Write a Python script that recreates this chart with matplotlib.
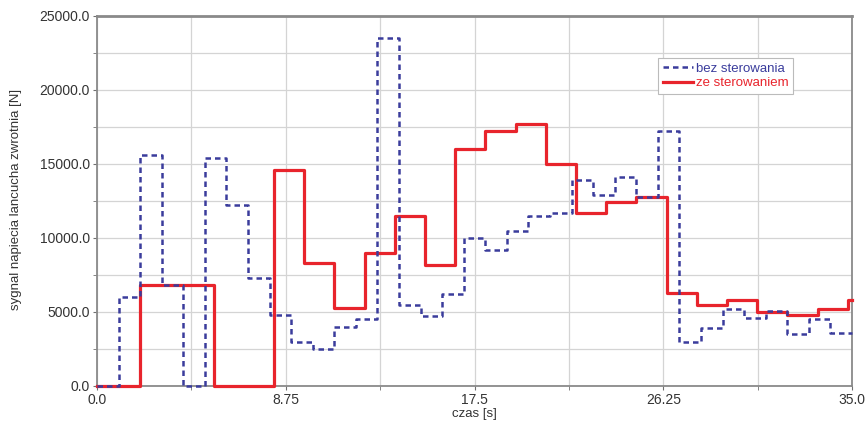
import matplotlib.pyplot as plt
from matplotlib.ticker import MultipleLocator, FormatStrFormatter

plt.rcParams['font.family'] = ['Liberation Sans', 'DejaVu Sans']

# bez sterowania (blue dashed) - step edges [s] and values [N]
t_bez = [0, 1, 2, 3, 4, 5, 6, 7, 8, 9, 10, 11, 12, 13, 14, 15, 16, 17,
         18, 19, 20, 21, 22, 23, 24, 25, 26, 27, 28, 29, 30, 31, 32, 33, 34, 35]
v_bez = [0, 6000, 15600, 6850, 0, 15400, 12200, 7300, 4800, 3000, 2500, 4000,
         4500, 23500, 5500, 4700, 6200, 10000, 9200, 10500, 11500, 11700,
         13900, 12900, 14100, 12800, 17200, 3000, 3900, 5200, 4600, 5100,
         3500, 4500, 3600, 3600]

# ze sterowaniem (red solid)
t_ze = [0, 2.0, 5.4, 8.2, 9.6, 11.0, 12.4, 13.8, 15.2, 16.6, 18.0, 19.4,
        20.8, 22.2, 23.6, 25.0, 26.4, 27.8, 29.2, 30.6, 32.0, 33.4, 34.8, 35]
v_ze = [0, 6800, 0, 14600, 8300, 5300, 9000, 11500, 8200, 16000, 17200,
        17700, 15000, 11700, 12400, 12800, 6300, 5500, 5800, 5000, 4800,
        5200, 5800, 5800]

fig = plt.figure(figsize=(8.68, 4.25), dpi=100)
ax = fig.add_axes([0.1118, 0.0918, 0.8698, 0.8706])

ax.step(t_ze, v_ze, where='post', color='#e8242c', lw=2.3,
        label='ze sterowaniem', zorder=3, clip_on=False)
ax.step(t_bez, v_bez, where='post', color='#3a3c9c', lw=1.8,
        linestyle=(0, (2.2, 1.6)), label='bez sterowania', zorder=4,
        clip_on=False)

ax.set_xlim(0, 35)
ax.set_ylim(0, 25000)
ax.xaxis.set_minor_locator(MultipleLocator(4.375))
ax.yaxis.set_major_locator(MultipleLocator(5000))
ax.yaxis.set_minor_locator(MultipleLocator(2500))
ax.set_xticks([0, 8.75, 17.5, 26.25, 35])
ax.set_xticklabels(['0.0', '8.75', '17.5', '26.25', '35.0'])
ax.yaxis.set_major_formatter(FormatStrFormatter('%.1f'))

ax.grid(which='both', color='#d4d4d4', lw=0.9, zorder=0)
ax.set_axisbelow(True)
ax.tick_params(which='both', direction='out', length=3, color='#707070',
               labelsize=10, labelcolor='#333333', pad=2)
for side in ['left', 'bottom', 'right', 'top']:
    ax.spines[side].set_color('#8a8a8a')
    ax.spines[side].set_linewidth(1.3)
ax.spines['top'].set_linewidth(2)

ax.set_xlabel('czas [s]', fontsize=9.5, color='#333333', labelpad=1)
ax.set_ylabel('sygnal napiecia lancucha zwrotnia [N]', fontsize=9.5,
              color='#333333')
ax.yaxis.set_label_coords(-0.1, 0.503)

h, l = ax.get_legend_handles_labels()
leg = ax.legend(h[::-1], l[::-1], loc='upper left',
                bbox_to_anchor=(0.743, 0.886), borderaxespad=0,
                fontsize=9.5, handlelength=2.3, handletextpad=0.2,
                labelspacing=0.15, borderpad=0.35, fancybox=False,
                edgecolor='#bbbbbb', framealpha=1, labelcolor='linecolor')
leg.get_frame().set_linewidth(0.8)

fig.savefig('out.png', dpi=100)
